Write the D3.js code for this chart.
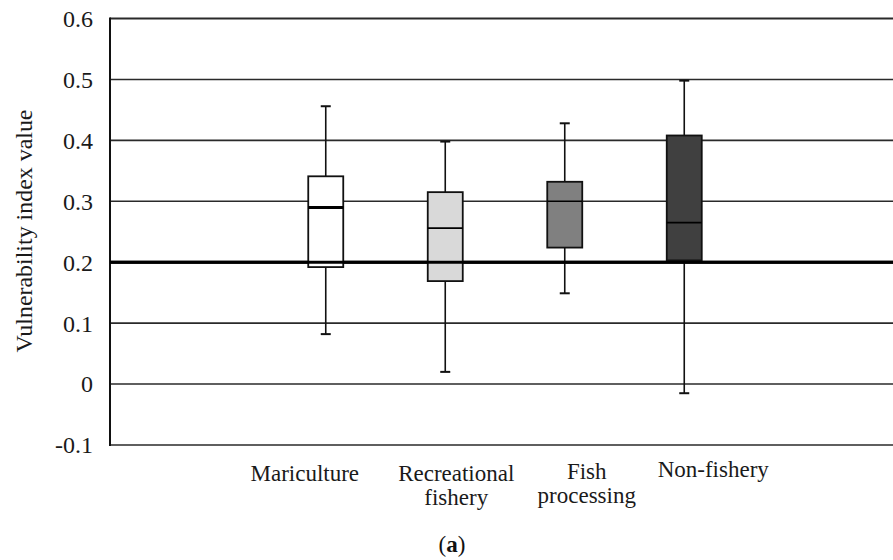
<!DOCTYPE html>
<html>
<head>
<meta charset="utf-8">
<script src="https://cdn.jsdelivr.net/npm/d3@7"></script>
<style>
  html, body { margin: 0; padding: 0; background: #fff; }
  svg { display: block; }
</style>
</head>
<body>
<script>
// Vulnerability index by sector: box-and-whisker summary
const categories = ["Mariculture", "Recreational fishery", "Fish processing", "Non-fishery"];
const labelLines = [["Mariculture"], ["Recreational", "fishery"], ["Fish", "processing"], ["Non-fishery"]];
const whiskerHigh = [0.456, 0.398, 0.428, 0.498];
const q3 = [0.341, 0.315, 0.332, 0.408];
const median = [0.290, 0.256, 0.300, 0.265];
const q1 = [0.192, 0.169, 0.224, 0.203];
const whiskerLow = [0.082, 0.020, 0.149, -0.015];
const boxFills = ["#ffffff", "#d9d9d9", "#808080", "#404040"];
const yTicks = [0.6, 0.5, 0.4, 0.3, 0.2, 0.1, 0, -0.1];
const yTickLabels = ["0.6", "0.5", "0.4", "0.3", "0.2", "0.1", "0", "-0.1"];

const W = 893, H = 560;
const SERIF = '"Liberation Serif", "Times New Roman", serif';
const svg = d3.select("body").append("svg")
  .attr("width", W).attr("height", H);

const plotLeft = 110, plotRight = 905;
const y = d3.scaleLinear().domain([-0.1, 0.6]).range([445, 18.5]);
const x = d3.scaleBand().domain(categories).range([266, 744]).paddingInner(0).paddingOuter(0);
const boxW = 35, capW = 10;

// horizontal gridlines
svg.append("g").selectAll("line").data(yTicks).join("line")
  .attr("x1", plotLeft).attr("x2", plotRight)
  .attr("y1", d => y(d)).attr("y2", d => y(d))
  .attr("stroke", d => d === 0.2 ? "#000" : "#2a2a2a")
  .attr("stroke-width", d => d === 0.2 ? 3 : (d === 0.6 ? 2 : 1.6));

// left axis line
svg.append("line").attr("x1", plotLeft).attr("x2", plotLeft)
  .attr("y1", y(0.6) - 1).attr("y2", y(-0.1) + 1)
  .attr("stroke", "#111").attr("stroke-width", 2);

// tick labels
svg.append("g").selectAll("text").data(yTicks).join("text")
  .attr("x", 93).attr("y", d => y(d)).attr("dy", "0.35em")
  .attr("text-anchor", "end").attr("font-size", 24)
  .style("font-family", SERIF).attr("fill", "#1a1a1a")
  .text((d, i) => yTickLabels[i]);

// axis title
svg.append("text")
  .attr("transform", "translate(32,231) rotate(-90)")
  .attr("text-anchor", "middle").attr("font-size", 23)
  .style("font-family", SERIF).attr("fill", "#1a1a1a")
  .attr("textLength", 243).attr("lengthAdjust", "spacingAndGlyphs")
  .text("Vulnerability index value");

// boxes
const g = svg.append("g").selectAll("g").data(categories).join("g")
  .attr("transform", d => `translate(${x(d) + x.bandwidth() / 2},0)`);

// whiskers
g.append("line").attr("x1", 0).attr("x2", 0)
  .attr("y1", (d, i) => y(whiskerHigh[i])).attr("y2", (d, i) => y(q3[i]))
  .attr("stroke", "#111").attr("stroke-width", 1.6);
g.append("line").attr("x1", 0).attr("x2", 0)
  .attr("y1", (d, i) => y(q1[i])).attr("y2", (d, i) => y(whiskerLow[i]))
  .attr("stroke", "#111").attr("stroke-width", 1.6);
g.append("line").attr("x1", -capW / 2).attr("x2", capW / 2)
  .attr("y1", (d, i) => y(whiskerHigh[i])).attr("y2", (d, i) => y(whiskerHigh[i]))
  .attr("stroke", "#111").attr("stroke-width", 2);
g.append("line").attr("x1", -capW / 2).attr("x2", capW / 2)
  .attr("y1", (d, i) => y(whiskerLow[i])).attr("y2", (d, i) => y(whiskerLow[i]))
  .attr("stroke", "#111").attr("stroke-width", 2);

// interquartile boxes
g.append("rect")
  .attr("x", -boxW / 2).attr("width", boxW)
  .attr("y", (d, i) => y(q3[i])).attr("height", (d, i) => y(q1[i]) - y(q3[i]))
  .attr("fill", (d, i) => boxFills[i])
  .attr("stroke", "#111").attr("stroke-width", 1.8);

// medians
g.append("line").attr("x1", -boxW / 2).attr("x2", boxW / 2)
  .attr("y1", (d, i) => y(median[i])).attr("y2", (d, i) => y(median[i]))
  .attr("stroke", "#000").attr("stroke-width", (d, i) => i === 0 ? 3 : 1.6);

// the 0.2 reference line sits on top of the boxes
svg.append("line").attr("x1", plotLeft).attr("x2", plotRight)
  .attr("y1", y(0.2)).attr("y2", y(0.2))
  .attr("stroke", "#000").attr("stroke-width", 3);

// category labels
const labelNudge = [-21, 11, 22, 29];
const labelBase = [481, 481, 479, 477];
svg.append("g").selectAll("text").data(categories).join("text")
  .attr("text-anchor", "middle").attr("font-size", 23)
  .style("font-family", SERIF).attr("fill", "#1a1a1a")
  .attr("transform", (d, i) => `translate(${x(d) + x.bandwidth() / 2 + labelNudge[i]},${labelBase[i]})`)
  .each(function (d, i) {
    d3.select(this).selectAll("tspan").data(labelLines[i]).join("tspan")
      .attr("x", 0).attr("y", (t, j) => j * 23.5)
      .text(t => t);
  });

// panel caption
svg.append("text").attr("x", 452).attr("y", 552)
  .attr("text-anchor", "middle").attr("font-size", 23)
  .style("font-family", SERIF).attr("fill", "#111")
  .html('(<tspan font-weight="bold">a</tspan>)');
</script>
</body>
</html>
